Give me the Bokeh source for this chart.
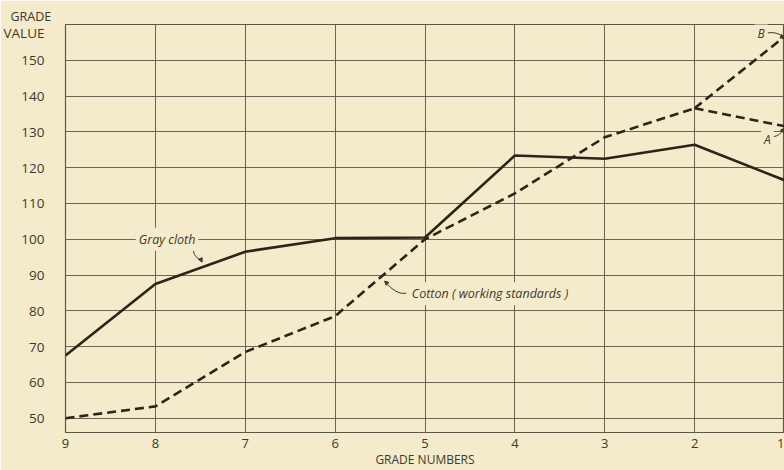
from bokeh.plotting import figure
from bokeh.models import Range1d, FixedTicker, Label, Arrow, NormalHead, Title
from bokeh.embed import file_html
from bokeh.resources import INLINE

# ---- data ----
grades = [9, 8, 7, 6, 5, 4, 3, 2, 1]
gray_cloth = [67.5, 87.5, 96.5, 100.3, 100.5, 123.4, 122.5, 126.4, 116.5]
cotton_grades = [9, 8, 7, 6, 5, 4, 3, 2]
cotton = [50.0, 53.3, 68.5, 78.5, 100.0, 112.8, 128.5, 136.6]
branch_grades = [2, 1]
branch_a = [136.6, 131.6]
branch_b = [136.6, 156.6]
y_ticks = [50, 60, 70, 80, 90, 100, 110, 120, 130, 140, 150]
y_title_pos = 157.6   # where the second word of the y title sits

CREAM = "#f4ebcc"
INK = "#2b2519"
GRID = "#5e5746"
TXT = "#3f392c"
FONT = "Open Sans"

W, H = 784, 470
LEFT, TOP, BOTTOM = 63, 24, 38

p = figure(width=W, height=H, output_backend="svg", toolbar_location=None,
           x_range=Range1d(9, 1), y_range=Range1d(46, 160),
           min_border_left=LEFT, min_border_right=0, min_border_top=TOP,
           min_border_bottom=BOTTOM)
p.background_fill_color = CREAM
p.border_fill_color = CREAM
p.outline_line_color = GRID
p.outline_line_width = 1.2

for ax in (p.xaxis[0], p.yaxis[0]):
    ax.axis_line_color = None
    ax.major_tick_line_color = None
    ax.minor_tick_line_color = None
    ax.major_label_text_font = FONT
    ax.major_label_text_color = TXT

p.xaxis.ticker = FixedTicker(ticks=grades)
p.xaxis.major_label_text_font_size = "13px"
p.xaxis.major_label_standoff = 0
p.xaxis.axis_label = "GRADE NUMBERS"
p.xaxis.axis_label_text_font = FONT
p.xaxis.axis_label_text_font_size = "12px"
p.xaxis.axis_label_text_font_style = "normal"
p.xaxis.axis_label_text_color = TXT
p.xaxis.axis_label_standoff = 0

p.yaxis.ticker = FixedTicker(ticks=y_ticks + [y_title_pos])
p.yaxis.major_label_overrides = {y_title_pos: "VALUE"}
p.yaxis.major_label_text_font_size = "13.5px"
p.yaxis.major_label_standoff = 15

p.xgrid.ticker = FixedTicker(ticks=grades)
p.ygrid.ticker = FixedTicker(ticks=y_ticks)
for g in (p.xgrid[0], p.ygrid[0]):
    g.grid_line_color = GRID
    g.grid_line_width = 1
    g.grid_line_alpha = 0.9

p.add_layout(Title(text="GRADE", align="left", offset=-55, standoff=0,
                   text_font=FONT, text_font_size="12.5px",
                   text_font_style="normal", text_color=TXT), "above")

# ---- series ----
p.line(grades, gray_cloth, line_width=2.6, line_color=INK)
p.line(cotton_grades, cotton, line_width=2.6, line_color=INK, line_dash="9 5")
p.line(branch_grades, branch_a, line_width=2.6, line_color=INK, line_dash="9 5")
p.line(branch_grades, branch_b, line_width=2.6, line_color=INK, line_dash="9 5")

# ---- annotations ----
def note(x, y, text, align="center", size="12.5px"):
    p.add_layout(Label(x=x, y=y, text=text, text_font=FONT, text_font_size=size,
                       text_font_style="italic", text_color=TXT, text_align=align,
                       text_baseline="middle", background_fill_color=CREAM,
                       padding=3))

note(7.87, 100, "Gray cloth")
note(5.18, 84.8, "Cotton ( working standards )", align="left")
note(1.26, 157.6, "B", size="12px")
note(1.19, 128.0, "A", size="12px")

lead = dict(line_color=TXT, line_width=1)
p.quadratic(x0=[7.57, 5.21, 1.21, 1.13], y0=[97.6, 84.9, 157.6, 128.6],
            x1=[7.49, 5.44, 1.01, 1.01], y1=[94.0, 88.0, 156.4, 130.8],
            cx=[7.60, 5.32, 1.08, 1.04], cy=[95.6, 84.4, 158.2, 129.0], **lead)
for (xs, ys, xe, ye) in [(7.50, 94.6, 7.48, 93.6), (5.42, 87.6, 5.45, 88.3),
                         (1.03, 156.6, 1.0, 156.3), (1.02, 130.4, 1.0, 131.0)]:
    p.add_layout(Arrow(end=NormalHead(size=4, fill_color=TXT, line_color=TXT),
                       x_start=xs, y_start=ys, x_end=xe, y_end=ye,
                       line_color=TXT, line_width=1))

open("out.html", "w").write(file_html(p, INLINE))
